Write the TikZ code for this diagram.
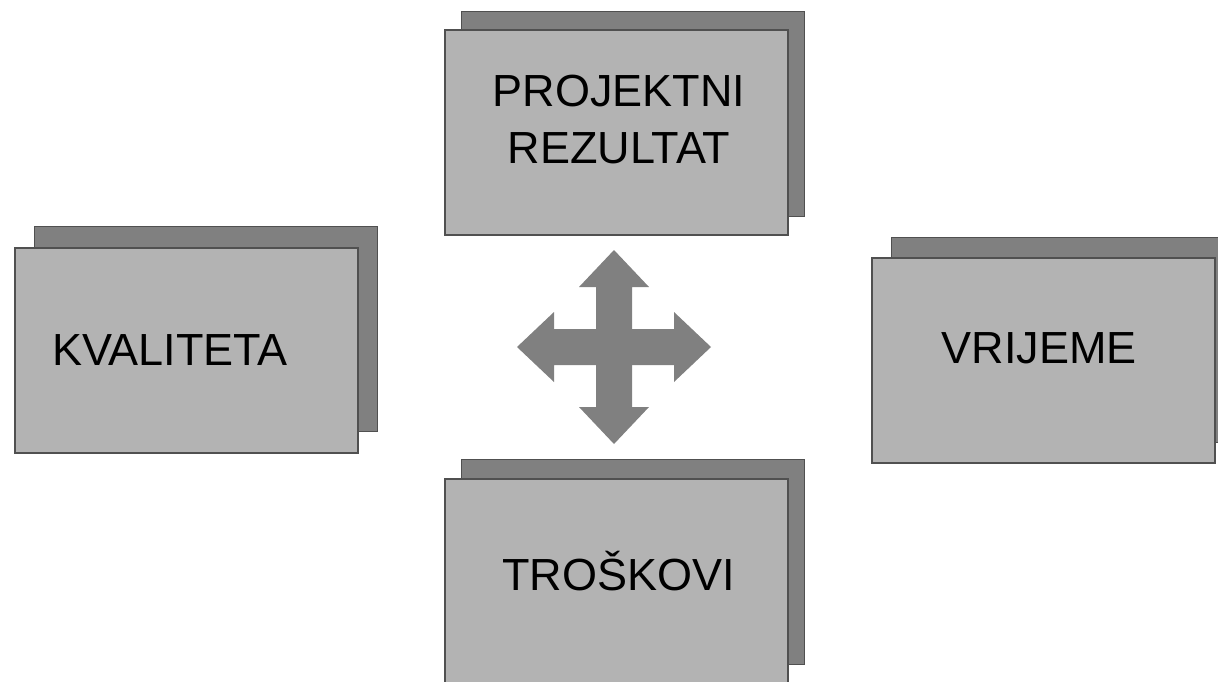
\documentclass[tikz,border=0pt]{standalone}
\usepackage{fontspec}
\setmainfont{Liberation Sans}
\usepackage{tikz}

\definecolor{cardfront}{RGB}{179,179,179}
\definecolor{cardback}{RGB}{128,128,128}
\definecolor{cardline}{RGB}{80,80,80}

\tikzset{
  card/.style={draw=cardline, line width=1.5pt, fill=cardfront,
    minimum width=343pt, minimum height=205pt, inner sep=0pt},
  backcard/.style={card, fill=cardback},
  cardtext/.style={font=\fontsize{45}{57}\selectfont, anchor=base,
    align=center, inner sep=0pt}
}

\begin{document}
\begin{tikzpicture}[x=1pt,y=-1pt]
\useasboundingbox (0,0) rectangle (1218,681);
\clip (0,0) rectangle (1218,681);
% sheets behind
\node[backcard] (RB) at (633,114) {};
\node[backcard] (KB) at (206,329) {};
\node[backcard] (VB) at (1063,340) {};
\node[backcard] (TB) at (633,562) {};
% sheets in front
\node[card] (R) at (616.5,132.5) {};
\node[card] (K) at (186.5,350.5) {};
\node[card] (V) at (1043.5,360.5) {};
\node[card] (T) at (616.5,581.5) {};
% texts
\node[cardtext] (Rt) at (619,163) {PROJEKTNI\\REZULTAT};
\node[cardtext] (Kt) at (170,365) {KVALITETA};
\node[cardtext] (Vt) at (1039,363) {VRIJEME};
\node[cardtext] (Tt) at (618.5,590) {TROŠKOVI};
% the cross
\foreach \a in {0,90,180,270}
  \fill[cardback, shift={(614,347)}, rotate=\a]
    (-18,-18) -- (60,-18) -- (60,-35) -- (97,0) -- (60,35) -- (60,18) -- (-18,18) -- cycle;
\end{tikzpicture}
\end{document}
